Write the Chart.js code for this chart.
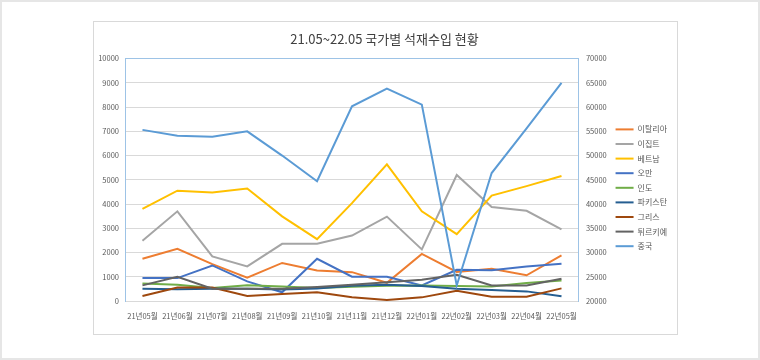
<!DOCTYPE html>
<html>
<head>
<meta charset="utf-8">
<script src="https://cdn.jsdelivr.net/npm/chart.js@4"></script>
<style>
  body { margin: 0; background: #fff; }
  #frame { position: relative; width: 760px; height: 360px; box-sizing: border-box; border: 2px solid #e6e6e6; }
  #box { position: absolute; left: 91px; top: 19px; width: 583px; height: 312px; border: 1px solid #d9d9d9; }
  #wrap { position: absolute; left: -2px; top: -2px; width: 760px; height: 360px; }
</style>
</head>
<body>
<div id="frame">
  <div id="box"></div>
  <div id="wrap"><canvas id="myChart"></canvas></div>
</div>
<script>
var months = ['21년05월', '21년06월', '21년07월', '21년08월', '21년09월', '21년10월', '21년11월',
              '21년12월', '22년01월', '22년02월', '22년03월', '22년04월', '22년05월'];

var countries = ['이탈리아', '이집트', '베트남', '오만', '인도', '파키스탄', '그리스', '튀르키예', '중국'];
var colorArr = ['#ED7D31', '#A5A5A5', '#FFC000', '#4472C4', '#70AD47', '#255E91', '#9E480E', '#636363', '#5B9BD5'];

var italy    = [1740, 2150, 1520, 960, 1570, 1260, 1190, 750, 1940, 1200, 1330, 1060, 1880];
var egypt    = [2490, 3700, 1840, 1430, 2360, 2360, 2700, 3480, 2130, 5200, 3880, 3720, 2950];
var vietnam  = [3800, 4550, 4480, 4640, 3490, 2550, 4040, 5640, 3700, 2760, 4350, 4740, 5160];
var oman     = [945, 945, 1466, 808, 360, 1740, 1000, 1000, 644, 1290, 1270, 1425, 1540];
var india    = [720, 670, 534, 650, 600, 534, 590, 630, 644, 616, 600, 740, 850];
var pakistan = [507, 480, 507, 507, 470, 520, 630, 671, 620, 507, 452, 397, 192];
var greece   = [205, 560, 560, 205, 288, 356, 150, 41, 150, 425, 178, 178, 520];
var turkiye  = [644, 1000, 507, 507, 507, 575, 671, 770, 877, 1082, 644, 644, 918];
var china    = [55300, 54100, 53900, 55000, 50000, 44700, 60150, 63800, 60500, 23200, 46400, 55600, 65000];

var seriesArr = [italy, egypt, vietnam, oman, india, pakistan, greece, turkiye, china];

var leftTicks = [0, 10000, 1000];
var rightTicks = [20000, 70000, 5000];

Chart.defaults.font.family = "'Noto Sans CJK KR', 'Noto Sans', sans-serif";
Chart.defaults.color = '#595959';

var datasets = seriesArr.map(function(values, i) {
    return {
        label: countries[i],
        data: values,
        borderColor: colorArr[i],
        backgroundColor: colorArr[i],
        borderWidth: 2,
        pointRadius: 0,
        tension: 0,
        yAxisID: i === 8 ? 'y2' : 'y',
        order: 8 - i
    };
});

var plainNum = function(v) { return String(v); };

var ctx = document.getElementById('myChart');

new Chart(ctx, {
    type: 'line',
    data: { labels: months, datasets: datasets },
    options: {
        responsive: true,
        maintainAspectRatio: false,
        animation: false,
        layout: { padding: { left: 92, right: 83, top: 20, bottom: 28 } },
        plugins: {
            title: {
                display: true,
                text: '21.05~22.05 국가별 석재수입 현황',
                color: '#404040',
                font: { size: 13, weight: 'normal' },
                padding: { top: 11, bottom: 12 }
            },
            legend: {
                position: 'right',
                title: { display: true, text: '', padding: 7, font: { size: 8 } },
                labels: {
                    usePointStyle: true,
                    pointStyle: 'line',
                    pointStyleWidth: 18,
                    padding: 6.6,
                    font: { size: 8 },
                    sort: function(a, b) { return a.datasetIndex - b.datasetIndex; }
                }
            },
            tooltip: { enabled: false }
        },
        scales: {
            x: {
                offset: true,
                grid: { display: false, drawTicks: false },
                border: { color: '#d9d9d9' },
                ticks: { font: { size: 7.5 }, padding: 11, maxRotation: 0, autoSkip: false }
            },
            y: {
                min: leftTicks[0],
                max: leftTicks[1],
                ticks: { stepSize: leftTicks[2], font: { size: 7.5 }, padding: 6, callback: plainNum },
                grid: {
                    drawTicks: false,
                    color: function(c) { return c.tick && c.tick.value === leftTicks[1] ? '#9DC3E6' : '#d9d9d9'; }
                },
                border: { color: '#9DC3E6' },
                afterFit: function(s) { s.width = 33; }
            },
            y2: {
                position: 'right',
                min: rightTicks[0],
                max: rightTicks[1],
                ticks: { stepSize: rightTicks[2], font: { size: 7.5 }, padding: 7, callback: plainNum },
                grid: { display: false, drawTicks: false },
                border: { color: '#9DC3E6' },
                afterFit: function(s) { s.width = 30; }
            }
        }
    }
});
</script>
</body>
</html>
